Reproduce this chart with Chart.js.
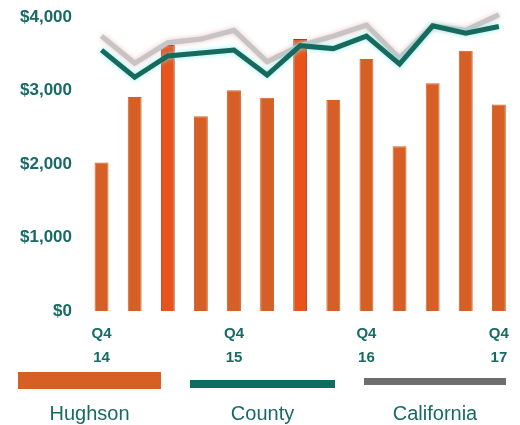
<!DOCTYPE html>
<html lang="en">
<head>
    <meta charset="UTF-8">
    <title>Hughson vs County vs California</title>
    <script src="https://cdn.jsdelivr.net/npm/chart.js"></script>
    <style>
        body {
            margin: 0;
            background: #ffffff;
            font-family: "Liberation Sans", Arial, sans-serif;
        }
        #wrap {
            position: relative;
            width: 520px;
            height: 425px;
        }
        #chart-box {
            position: absolute;
            left: 0;
            top: 0;
            width: 520px;
            height: 381px;
        }
        .key {
            position: absolute;
        }
        .key .swatch {
            position: absolute;
        }
        .key .name {
            position: absolute;
            top: 30px;
            width: 100%;
            text-align: center;
            font-size: 20px;
            color: #176a66;
        }
    </style>
</head>
<body>
<div id="wrap">
    <div id="chart-box"><canvas id="priceChart"></canvas></div>

    <div class="key" style="left:18px; top:372px; width:143px;">
        <div class="swatch" style="left:0; top:0; width:143px; height:17px; background:#d65f26;"></div>
        <div class="name">Hughson</div>
    </div>
    <div class="key" style="left:190px; top:372px; width:145px;">
        <div class="swatch" style="left:0; top:8px; width:145px; height:8px; background:#0f6d60;"></div>
        <div class="name">County</div>
    </div>
    <div class="key" style="left:364px; top:372px; width:142px;">
        <div class="swatch" style="left:0; top:6px; width:142px; height:7px; background:#6e6e6e;"></div>
        <div class="name">California</div>
    </div>
</div>

<script>
    // quarters Q4 2014 .. Q4 2017, only every Q4 is labelled
    const quarters = [
        ['Q4', '14'], '', '', '',
        ['Q4', '15'], '', '', '',
        ['Q4', '16'], '', '', '',
        ['Q4', '17']
    ];

    const hughson = [2020, 2910, 3620, 2650, 3005, 2900, 3700, 2870, 3430, 2240, 3100, 3540, 2810];
    const county = [3550, 3180, 3470, 3510, 3550, 3210, 3610, 3570, 3740, 3360, 3880, 3780, 3870];
    const california = [3740, 3370, 3650, 3700, 3820, 3390, 3610, 3740, 3890, 3440, 3880, 3820, 4030];

    const yTicks = [0, 1000, 2000, 3000, 4000];

    // two bars are drawn in a brighter red-orange with a dark edge
    const highlighted = [2, 6];
    const barFill = hughson.map((v, i) => highlighted.includes(i) ? '#e8531c' : '#d65f26');
    const barEdge = hughson.map((v, i) => highlighted.includes(i) ? '#8a3a18' : '#d65f26');

    const glowPlugin = {
        id: 'glow',
        beforeDatasetDraw(chart, args) {
            const ds = chart.data.datasets[args.index];
            if (ds.type !== 'line') return;
            const ctx = chart.ctx;
            ctx.save();
            ctx.shadowColor = ds.glow;
            ctx.shadowBlur = 5;
        },
        afterDatasetDraw(chart, args) {
            const ds = chart.data.datasets[args.index];
            if (ds.type !== 'line') return;
            chart.ctx.restore();
        }
    };

    const ctx = document.getElementById('priceChart').getContext('2d');
    const chart = new Chart(ctx, {
        data: {
            labels: quarters,
            datasets: [
                {
                    type: 'line',
                    label: 'California',
                    data: california,
                    borderColor: '#c6c4c4',
                    borderWidth: 5,
                    pointRadius: 0,
                    tension: 0,
                    clip: false,
                    glow: 'rgba(230,170,170,0.7)',
                    order: 2
                },
                {
                    type: 'line',
                    label: 'County',
                    data: county,
                    borderColor: '#17695e',
                    borderWidth: 5,
                    pointRadius: 0,
                    tension: 0,
                    clip: false,
                    glow: 'rgba(110,235,235,0.8)',
                    order: 1
                },
                {
                    type: 'bar',
                    label: 'Hughson',
                    data: hughson,
                    backgroundColor: barFill,
                    borderColor: barEdge,
                    borderWidth: 1,
                    barPercentage: 0.42,
                    categoryPercentage: 1,
                    order: 3
                }
            ]
        },
        options: {
            responsive: true,
            maintainAspectRatio: false,
            animation: false,
            layout: {
                padding: { left: 15, right: 3, top: 17, bottom: 0 }
            },
            plugins: {
                legend: { display: false },
                tooltip: { enabled: false }
            },
            scales: {
                x: {
                    grid: { display: false, drawTicks: false },
                    border: { display: false },
                    ticks: {
                        autoSkip: false,
                        maxRotation: 0,
                        padding: 11,
                        color: '#176a66',
                        font: { family: 'Liberation Sans', size: 15, weight: 'bold', lineHeight: 1.6 }
                    }
                },
                y: {
                    min: 0,
                    max: 4000,
                    grid: { display: false, drawTicks: false },
                    border: { display: false },
                    afterFit(scale) {
                        scale.width = 70;
                        scale.paddingTop = 0;
                    },
                    afterBuildTicks(scale) {
                        scale.ticks = yTicks.map(v => ({ value: v }));
                    },
                    ticks: {
                        padding: 13,
                        color: '#176a66',
                        font: { family: 'Liberation Sans', size: 17, weight: 'bold' },
                        callback: v => '$' + v.toLocaleString('en-US')
                    }
                }
            }
        },
        plugins: [glowPlugin]
    });
</script>
</body>
</html>
